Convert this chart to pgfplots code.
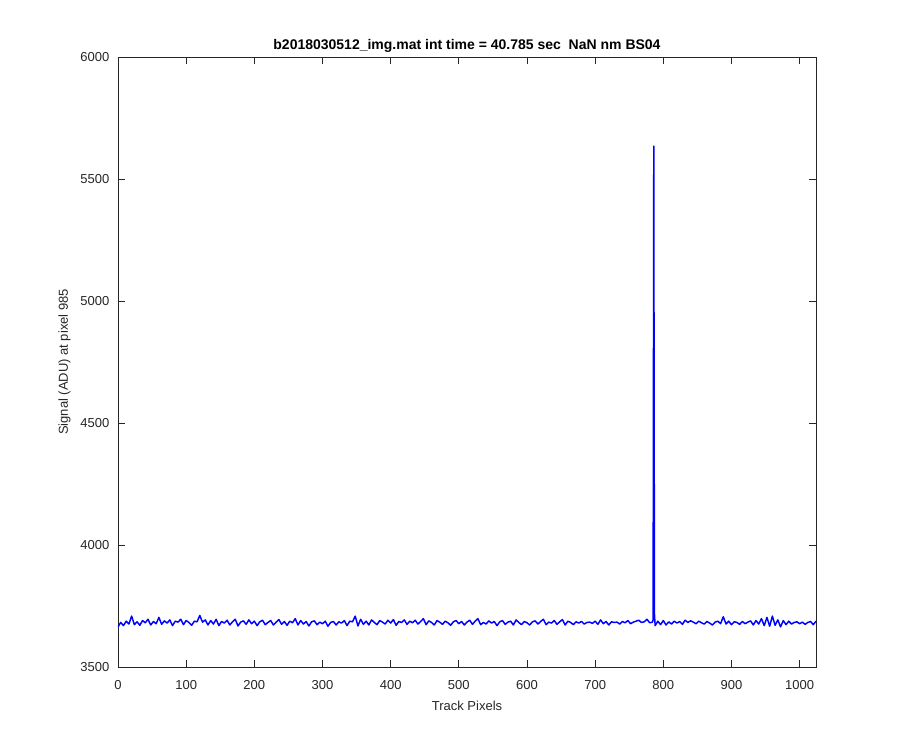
\documentclass[border=0pt]{standalone}
\usepackage{fontspec}
\setmainfont{Liberation Sans}
\usepackage{pgfplots}
\pgfplotsset{compat=1.18}
\definecolor{axgray}{rgb}{0.15,0.15,0.15}
\begin{document}
\begin{tikzpicture}
\begin{axis}[
  scale only axis,
  width=523.5pt, height=457.5pt,
  xmin=0, xmax=1024, ymin=3500, ymax=6000,
  xtick={0,100,...,1000}, ytick={3500,4000,...,6000},
  tick align=inside, major tick length=5pt,
  every tick/.style={axgray, line width=0.5pt},
  axis line style={axgray, line width=0.6pt},
  tick label style={font=\fontsize{9.75}{11}\selectfont, text=axgray},
  xticklabel style={yshift=-6.5pt},
  yticklabel style={xshift=-3pt},
  /pgf/number format/assume math mode=true,
  /pgf/number format/set thousands separator={},
  scaled ticks=false,
  xlabel={Track Pixels}, ylabel={Signal (ADU) at pixel 985},
  label style={font=\fontsize{9.75}{11}\selectfont, text=axgray},
  xlabel style={yshift=-2pt},
  ylabel style={yshift=0.5pt},
  title={\bfseries b2018030512\_img.mat int time = 40.785 sec\ \ NaN nm BS04},
  title style={font=\fontsize{10.5}{12}\selectfont, yshift=-6pt},
]
\addplot[blue, line width=1.1pt, line join=round] table[x=x, y expr=1.3*\thisrow{d}+3680] {
x d
0 -12
4 2
8 -8
12 6
16 -3
20 22
24 -5
28 4
32 -7
36 8
40 1
44 12
48 -6
52 5
56 -2
60 18
64 -4
68 7
72 0
76 10
80 -8
84 6
88 3
92 12
96 -5
100 8
104 2
108 -7
112 6
116 4
120 24
124 3
128 10
132 -6
136 8
140 -3
144 12
148 -8
152 5
156 0
160 9
164 -6
168 4
172 12
176 -9
180 3
184 7
188 -4
192 10
196 -2
200 6
204 -8
208 4
212 9
216 -5
220 2
224 8
228 -6
232 3
236 11
240 -4
244 5
248 -7
252 6
256 1
260 14
264 -6
268 8
272 -3
276 5
280 -9
284 4
288 7
292 -5
296 3
300 -2
304 6
308 -10
312 2
316 5
320 -6
324 4
328 0
332 8
336 -8
340 6
344 4
348 22
352 -9
356 12
360 -4
364 6
368 -6
372 10
376 2
380 -5
384 8
388 3
392 -3
396 9
400 0
404 11
408 -7
412 5
416 2
420 10
424 -4
428 6
432 1
436 9
440 -3
444 5
448 14
452 -5
456 7
460 2
464 -6
468 8
472 3
476 -4
480 6
484 1
488 -7
492 4
496 8
500 -2
504 5
508 -6
512 3
516 9
520 -4
524 6
528 14
532 -5
536 2
540 -3
544 7
548 0
552 5
556 -8
560 4
564 8
568 -4
572 3
576 6
580 -6
584 10
588 2
592 -5
596 5
600 1
604 -6
608 4
612 7
616 -3
620 5
624 12
628 -5
632 3
636 0
640 8
644 -4
648 4
652 11
656 -6
660 6
664 2
668 -5
672 4
676 0
680 5
684 -3
688 2
692 3
696 -1
700 6
704 -4
708 10
712 -2
716 5
720 -6
724 4
728 2
732 3
736 -3
740 5
744 1
748 8
752 -2
756 3
760 6
764 9
768 2
772 4
776 12
780 1
784 3
785 10
786 1504
787 30
788 -8
792 6
796 -5
800 8
804 -6
808 4
812 -3
816 6
820 0
824 5
828 -4
832 9
836 2
840 7
844 3
848 -2
852 6
856 1
860 -3
864 5
868 0
872 -6
876 3
880 6
884 -2
888 20
892 -3
896 6
900 -5
904 4
908 2
912 -4
916 5
920 -2
924 3
928 7
932 -6
936 8
940 -3
944 14
948 -8
952 18
956 -10
960 22
964 -7
968 10
972 -12
976 8
980 -5
984 6
988 -3
992 2
996 4
1000 -2
1004 3
1008 -4
1012 2
1016 5
1020 -5
1024 6
};
\end{axis}
\path[use as bounding box] (-88.5pt,-62.25pt) rectangle (586.5pt,500.25pt);
\end{tikzpicture}
\end{document}
